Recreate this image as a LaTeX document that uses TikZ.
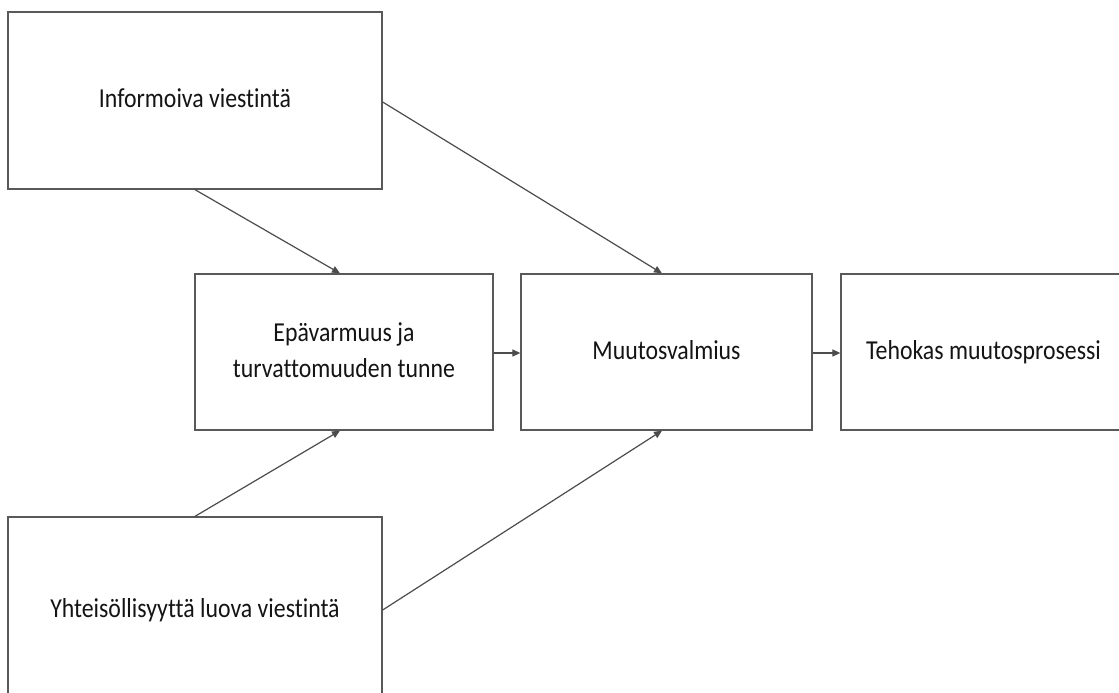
\documentclass[tikz,border=0pt]{standalone}
\usepackage{fontspec}
\setmainfont{Carlito}[RawFeature={-liga;-dlig;-hlig;-clig}]
\usetikzlibrary{arrows.meta}
\newcommand{\boxtext}[1]{\scalebox{1}[1.15]{\begin{tabular}{@{}c@{}}#1\end{tabular}}}
\begin{document}
\begin{tikzpicture}[x=1pt,y=1pt,
  blk/.style={draw=black!65, line width=1.3pt, rectangle, inner sep=0pt, text=black!92,
    font=\fontsize{23.8}{31.3}\selectfont},
  conn/.style={draw=black!70, line width=1.2pt},
  arr/.style={conn, -{Triangle[length=8pt,width=7pt]}}]
\useasboundingbox (0,0) rectangle (1119,-693);
\clip (0,0) rectangle (1119,-693);
\fill[white] (0,0) rectangle (1119,-693);
\node[blk, minimum width=374pt, minimum height=177pt] (A) at (195,-100.5) {\boxtext{Informoiva viestintä}};
\node[blk, minimum width=298pt, minimum height=156pt] (B) at (344,-352) {\boxtext{Epävarmuus ja\\turvattomuuden tunne}};
\node[blk, minimum width=291pt, minimum height=156pt] (C) at (666.5,-352) {\boxtext{Muutosvalmius}};
\node[blk, minimum width=285pt, minimum height=156pt] (D) at (983.5,-352) {\boxtext{Tehokas muutosprosessi}};
\node[blk, minimum width=374pt, minimum height=186pt] (E) at (195,-610) {\boxtext{Yhteisöllisyyttä luova viestintä}};
\draw[arr] (A.south) -- ([xshift=-4pt]B.north);
\draw[arr] ([yshift=-1.5pt]A.east) -- ([xshift=-4.5pt]C.north);
\draw[arr] (E.north) -- ([xshift=-4pt]B.south);
\draw[arr] (E.east) -- ([xshift=-4.5pt]C.south);
\draw[arr] ([yshift=-1pt]B.east) -- ([yshift=-1pt]C.west);
\draw[arr] ([yshift=-1pt]C.east) -- ([yshift=-1pt]D.west);
\end{tikzpicture}
\end{document}
